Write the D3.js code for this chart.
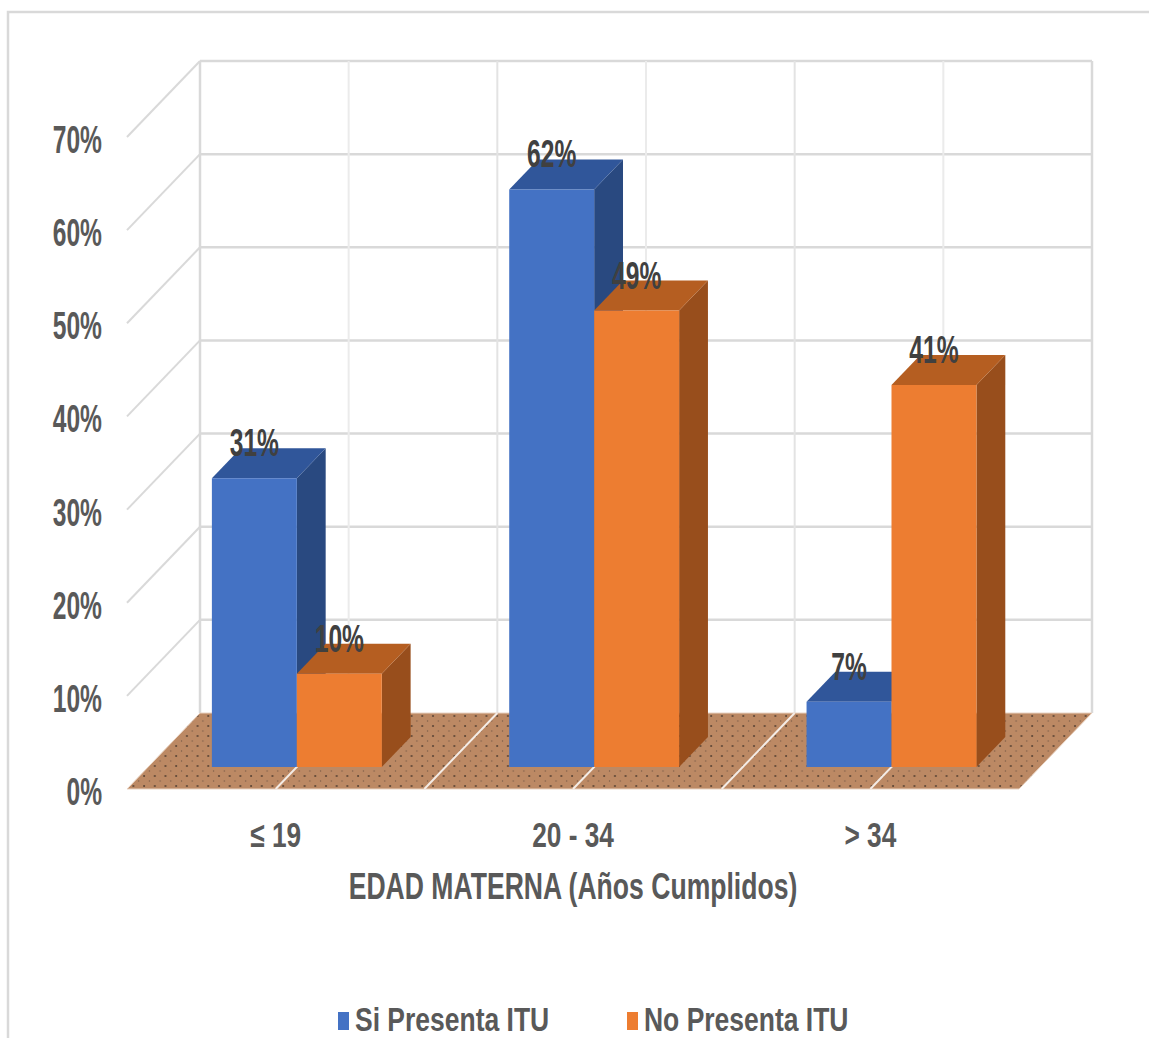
<!DOCTYPE html>
<html>
<head>
<meta charset="utf-8">
<script src="https://cdn.jsdelivr.net/npm/d3@7"></script>
<style>
  html, body { margin: 0; padding: 0; background: #fff; }
  svg { display: block; }
  text { font-family: "Liberation Sans", Arial, sans-serif; font-weight: bold; }
</style>
</head>
<body>
<script>
// Maternal age groups and share of each group, by UTI status
const categories = ["≤ 19", "20 - 34", "> 34"];
const siPresenta = [0.31, 0.62, 0.07];
const noPresenta = [0.10, 0.49, 0.41];
const seriesNames = ["Si Presenta ITU", "No Presenta ITU"];
const yTicks = [0, 0.1, 0.2, 0.3, 0.4, 0.5, 0.6, 0.7];
const axisTitle = "EDAD MATERNA (Años Cumplidos)";

const W = 1149, H = 1038;
const frontColors = ["#4472C4", "#ED7D31"];
const topColors = ["#30569A", "#B55E21"];
const sideColors = ["#294980", "#984E1C"];

const svg = d3.select("body").append("svg").attr("width", W).attr("height", H);

// outer chart border (right and bottom run off the page)
svg.append("rect").attr("x", 8).attr("y", 12).attr("width", 1300).attr("height", 1200)
  .attr("fill", "none").attr("stroke", "#D9D9D9").attr("stroke-width", 2.5);

// front-plane scales; depth is an oblique offset
const x = d3.scaleBand().domain(categories).range([127, 1019]).paddingInner(0).paddingOuter(0);
const y = d3.scaleLinear().domain([0, 0.7]).range([789, 137]);
const DX = 73, DY = -76;
const proj = (px, v, z) => [px + z * DX, y(v) + z * DY];
const poly = pts => "M" + pts.map(p => p.join(",")).join("L") + "Z";

// floor pattern
const defs = svg.append("defs");
const pat = defs.append("pattern").attr("id", "floorDots").attr("patternUnits", "userSpaceOnUse")
  .attr("width", 10.7).attr("height", 10).attr("x", 2).attr("y", 3);
pat.append("rect").attr("width", 10.7).attr("height", 10).attr("fill", "#BC8964");
pat.append("circle").attr("cx", 3).attr("cy", 3).attr("r", 1.1).attr("fill", "#5E4636");
pat.append("circle").attr("cx", 8.3).attr("cy", 8).attr("r", 0.7).attr("fill", "#7A5C46");

const grid = svg.append("g");
const [x0, x1] = x.range();

// back wall gridlines and left wall diagonals
yTicks.forEach(t => {
  if (t > 0) {
    grid.append("line").attr("x1", proj(x0, t, 1)[0]).attr("y1", proj(x0, t, 1)[1])
      .attr("x2", proj(x1, t, 1)[0]).attr("y2", proj(x1, t, 1)[1])
      .attr("stroke", "#D9D9D9").attr("stroke-width", 2.5);
    grid.append("line").attr("x1", proj(x0, t, 0)[0]).attr("y1", proj(x0, t, 0)[1])
      .attr("x2", proj(x0, t, 1)[0]).attr("y2", proj(x0, t, 1)[1])
      .attr("stroke", "#D9D9D9").attr("stroke-width", 2);
  }
});

// vertical lines on the back wall: wall edges, category bounds and midpoints
const vLines = [];
categories.forEach((c, i) => {
  vLines.push({ px: x(c), edge: i === 0 });
  vLines.push({ px: x(c) + x.bandwidth() / 2, edge: false, mid: true });
});
vLines.push({ px: x1, edge: true });
vLines.forEach(d => {
  grid.append("line").attr("x1", proj(d.px, 0, 1)[0]).attr("y1", proj(d.px, 0, 1)[1])
    .attr("x2", proj(d.px, 0.7, 1)[0]).attr("y2", proj(d.px, 0.7, 1)[1])
    .attr("stroke", d.edge ? "#D9D9D9" : (d.mid ? "#EBEBEB" : "#E3E3E3"))
    .attr("stroke-width", d.edge ? 2.5 : 2);
});

// floor
grid.append("path")
  .attr("d", poly([proj(x0, 0, 0), proj(x1, 0, 0), proj(x1, 0, 1), proj(x0, 0, 1)]))
  .attr("fill", "url(#floorDots)").attr("stroke", "#E9D3C2").attr("stroke-width", 1);

// white depth lines across the floor
vLines.filter(d => !d.edge).forEach(d => {
  grid.append("line").attr("x1", proj(d.px, 0, 0)[0]).attr("y1", proj(d.px, 0, 0)[1])
    .attr("x2", proj(d.px, 0, 1)[0]).attr("y2", proj(d.px, 0, 1)[1])
    .attr("stroke", "#F4ECE6").attr("stroke-width", 2);
});

// 3D columns
const bw = x.bandwidth() / 3.5;
const zFront = 0.29, zBack = 0.685;
const series = [siPresenta, noPresenta];
const bars = [];
categories.forEach((c, i) => {
  series.forEach((vals, s) => {
    const bx0 = x(c) + (x.bandwidth() - 2 * bw) / 2 + s * bw;
    bars.push({ c, s, v: vals[i], bx0, bx1: bx0 + bw });
  });
});

const barG = svg.append("g");
bars.forEach(b => {
  const g = barG.append("g");
  g.append("path").attr("fill", sideColors[b.s])
    .attr("d", poly([proj(b.bx1, 0, zFront), proj(b.bx1, 0, zBack), proj(b.bx1, b.v, zBack), proj(b.bx1, b.v, zFront)]));
  g.append("path").attr("fill", topColors[b.s])
    .attr("d", poly([proj(b.bx0, b.v, zFront), proj(b.bx1, b.v, zFront), proj(b.bx1, b.v, zBack), proj(b.bx0, b.v, zBack)]));
  g.append("path").attr("fill", frontColors[b.s])
    .attr("d", poly([proj(b.bx0, 0, zFront), proj(b.bx1, 0, zFront), proj(b.bx1, b.v, zFront), proj(b.bx0, b.v, zFront)]));
});

// condensed text: horizontal squeeze with a vertical stretch
const SX = 0.82;
function label(parent, txt, tx, ty, size, sy, anchor, fill) {
  parent.append("g").attr("transform", `translate(${tx},${ty}) scale(${SX},${sy})`)
    .append("text").attr("text-anchor", anchor).attr("font-size", size)
    .attr("fill", fill).text(txt);
}

const fmt = d3.format(".0%");

// data labels
const lblG = svg.append("g");
bars.forEach(b => {
  const p = proj((b.bx0 + b.bx1) / 2, b.v, zFront);
  label(lblG, fmt(b.v), p[0], p[1] - 22, 30, 1.27, "middle", "#404040");
});

// value axis labels
const axG = svg.append("g");
yTicks.forEach(t => label(axG, fmt(t), 102, y(t) + 16, 30, 1.3, "end", "#595959"));

// category labels
categories.forEach(c => label(axG, c, x(c) + x.bandwidth() / 2, 847, 32, 1.1, "middle", "#595959"));

// axis title
label(axG, axisTitle, (x0 + x1) / 2, 899, 32.4, 1.12, "middle", "#595959");

// legend
const legX = [338, 627];
seriesNames.forEach((n, i) => {
  axG.append("rect").attr("x", legX[i]).attr("y", 1012).attr("width", 11).attr("height", 18)
    .attr("fill", frontColors[i]);
  label(axG, n, legX[i] + 17, 1031, 32.3, 1.0, "start", "#595959");
});
</script>
</body>
</html>
